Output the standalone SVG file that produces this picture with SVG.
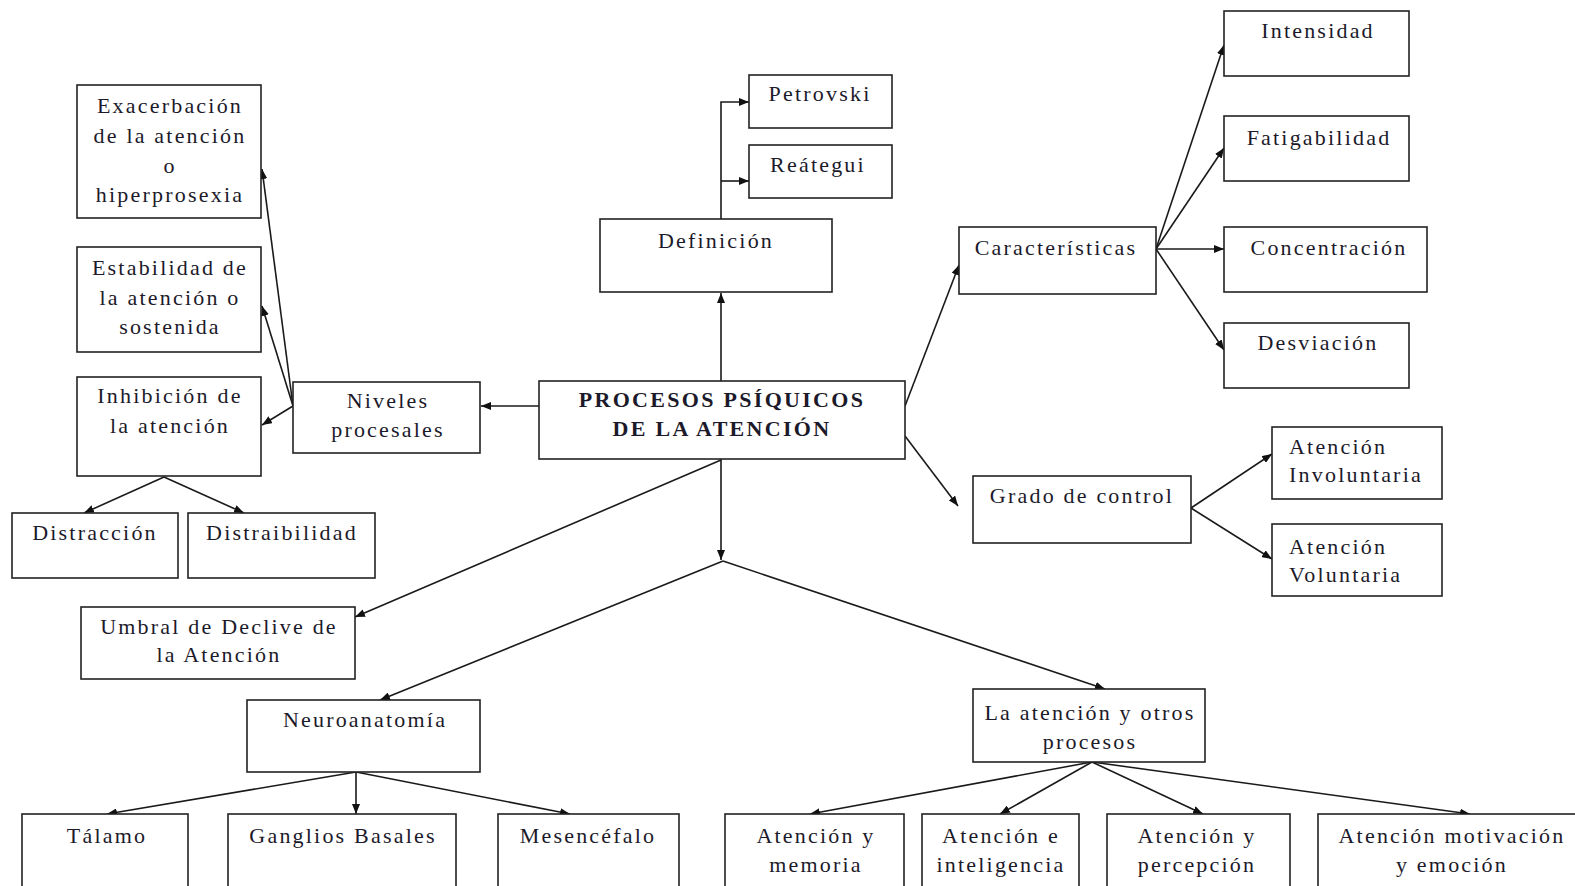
<svg xmlns="http://www.w3.org/2000/svg" width="1575" height="886" viewBox="0 0 1575 886">
<defs>
<marker id="ah" viewBox="0 0 10 8" refX="10" refY="4" markerWidth="10" markerHeight="8" markerUnits="userSpaceOnUse" orient="auto">
<path d="M0,0 L10,4 L0,8 Z" fill="#111"/>
</marker>
<style>
rect{fill:#fff;stroke:#222;stroke-width:1.6}
text{font-family:"Liberation Serif","Times New Roman",serif;font-size:22px;fill:#1c1a2a;letter-spacing:2.2px;text-anchor:middle}
.l{text-anchor:start}
.b{font-weight:bold;letter-spacing:2.3px}
#connectors path,#connectors line{stroke:#1a1a1a;stroke-width:1.6;fill:none}
.a{marker-end:url(#ah)}
</style>
</defs>
<rect x="0" y="0" width="1575" height="886" style="fill:#fff;stroke:none"/>
<g id="connectors">
<line class="a" x1="721" y1="381" x2="721" y2="293"/>
<path class="a" d="M721,219 L721,102 L749,102"/>
<line class="a" x1="721" y1="181" x2="749" y2="181"/>
<line class="a" x1="539" y1="406" x2="481" y2="406"/>
<line class="a" x1="293" y1="406" x2="262" y2="169"/>
<line class="a" x1="293" y1="406" x2="262" y2="306"/>
<line class="a" x1="293" y1="406" x2="262" y2="425"/>
<line class="a" x1="164" y1="477" x2="84" y2="513"/>
<line class="a" x1="164" y1="477" x2="244" y2="513"/>
<line class="a" x1="905" y1="406" x2="959" y2="265"/>
<line class="a" x1="905" y1="436" x2="958" y2="506"/>
<line class="a" x1="1156" y1="249" x2="1224" y2="45"/>
<line class="a" x1="1156" y1="249" x2="1224" y2="148"/>
<line class="a" x1="1156" y1="249" x2="1224" y2="249"/>
<line class="a" x1="1156" y1="249" x2="1224" y2="350"/>
<line class="a" x1="1191" y1="508" x2="1272" y2="454"/>
<line class="a" x1="1191" y1="508" x2="1272" y2="559"/>
<line class="a" x1="721" y1="459" x2="721" y2="560"/>
<line class="a" x1="721" y1="460" x2="355" y2="617"/>
<line class="a" x1="723" y1="561" x2="380" y2="700"/>
<line class="a" x1="723" y1="561" x2="1105" y2="689"/>
<line class="a" x1="356" y1="772" x2="107" y2="814"/>
<line class="a" x1="356" y1="772" x2="356" y2="814"/>
<line class="a" x1="356" y1="772" x2="570" y2="814"/>
<line class="a" x1="1092" y1="762" x2="810" y2="814"/>
<line class="a" x1="1092" y1="762" x2="1000" y2="814"/>
<line class="a" x1="1092" y1="762" x2="1203" y2="814"/>
<line class="a" x1="1092" y1="762" x2="1470" y2="814"/>
</g>
<g id="exacerbacion"><rect x="77" y="85" width="184" height="133"/><text x="170" y="113">Exacerbación</text><text x="170" y="143">de la atención</text><text x="170" y="173">o</text><text x="170" y="202">hiperprosexia</text></g>
<g id="estabilidad"><rect x="77" y="247" width="184" height="105"/><text x="170" y="275">Estabilidad de</text><text x="170" y="305">la atención o</text><text x="170" y="334">sostenida</text></g>
<g id="inhibicion"><rect x="77" y="377" width="184" height="99"/><text x="170" y="403">Inhibición de</text><text x="170" y="433">la atención</text></g>
<g id="niveles"><rect x="293" y="382" width="187" height="71"/><text x="388" y="408">Niveles</text><text x="388" y="437">procesales</text></g>
<g id="distraccion"><rect x="12" y="513" width="166" height="65"/><text x="95" y="540">Distracción</text></g>
<g id="distraibilidad"><rect x="188" y="513" width="187" height="65"/><text x="282" y="540">Distraibilidad</text></g>
<g id="procesos"><rect x="539" y="381" width="366" height="78"/><text class="b" x="722" y="407">PROCESOS PSÍQUICOS</text><text class="b" x="722" y="436">DE LA ATENCIÓN</text></g>
<g id="definicion"><rect x="600" y="219" width="232" height="73"/><text x="716" y="248">Definición</text></g>
<g id="petrovski"><rect x="749" y="75" width="143" height="53"/><text x="820" y="101">Petrovski</text></g>
<g id="reategui"><rect x="749" y="145" width="143" height="53"/><text x="818" y="172">Reátegui</text></g>
<g id="caracteristicas"><rect x="959" y="227" width="197" height="67"/><text x="1056" y="255">Características</text></g>
<g id="intensidad"><rect x="1224" y="11" width="185" height="65"/><text x="1318" y="38">Intensidad</text></g>
<g id="fatigabilidad"><rect x="1224" y="116" width="185" height="65"/><text x="1319" y="145">Fatigabilidad</text></g>
<g id="concentracion"><rect x="1224" y="227" width="203" height="65"/><text x="1329" y="255">Concentración</text></g>
<g id="desviacion"><rect x="1224" y="323" width="185" height="65"/><text x="1318" y="350">Desviación</text></g>
<g id="grado"><rect x="973" y="476" width="218" height="67"/><text x="1082" y="503">Grado de control</text></g>
<g id="involuntaria"><rect x="1272" y="427" width="170" height="72"/><text class="l" x="1289" y="454">Atención</text><text class="l" x="1289" y="482">Involuntaria</text></g>
<g id="voluntaria"><rect x="1272" y="524" width="170" height="72"/><text class="l" x="1289" y="554">Atención</text><text class="l" x="1289" y="582">Voluntaria</text></g>
<g id="umbral"><rect x="81" y="607" width="274" height="72"/><text x="219" y="634">Umbral de Declive de</text><text x="219" y="662">la Atención</text></g>
<g id="neuroanatomia"><rect x="247" y="700" width="233" height="72"/><text x="365" y="727">Neuroanatomía</text></g>
<g id="otros"><rect x="973" y="689" width="232" height="73"/><text x="1090" y="720">La atención y otros</text><text x="1090" y="749">procesos</text></g>
<g id="talamo"><rect x="22" y="814" width="166" height="80"/><text x="107" y="843">Tálamo</text></g>
<g id="ganglios"><rect x="228" y="814" width="228" height="80"/><text x="343" y="843">Ganglios Basales</text></g>
<g id="mesencefalo"><rect x="498" y="814" width="181" height="80"/><text x="588" y="843">Mesencéfalo</text></g>
<g id="memoria"><rect x="725" y="814" width="179" height="80"/><text x="816" y="843">Atención y</text><text x="816" y="872">memoria</text></g>
<g id="inteligencia"><rect x="922" y="814" width="157" height="80"/><text x="1001" y="843">Atención e</text><text x="1001" y="872">inteligencia</text></g>
<g id="percepcion"><rect x="1107" y="814" width="183" height="80"/><text x="1197" y="843">Atención y</text><text x="1197" y="872">percepción</text></g>
<g id="motivacion"><rect x="1318" y="814" width="262" height="80"/><text x="1452" y="843">Atención motivación</text><text x="1452" y="872">y emoción</text></g>
</svg>
